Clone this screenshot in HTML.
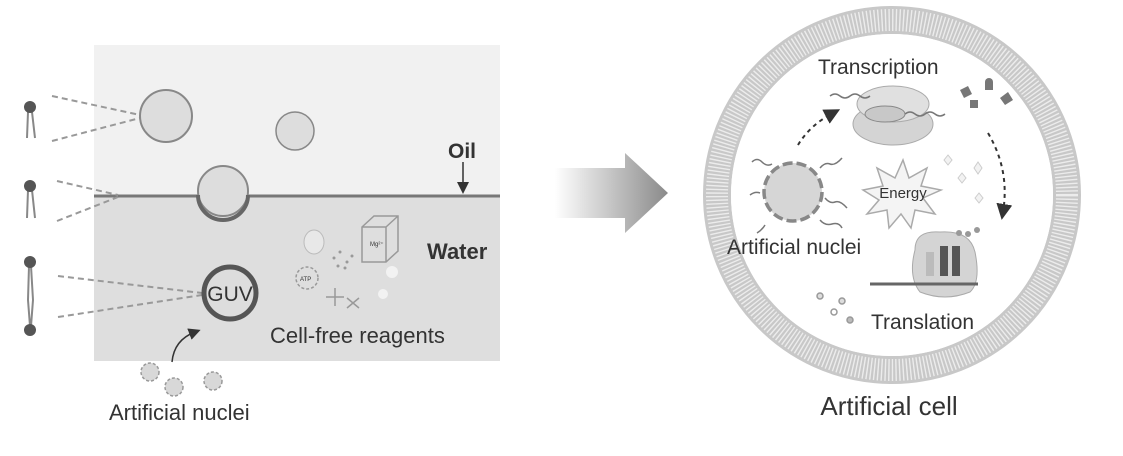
<!DOCTYPE html>
<html><head><meta charset="utf-8"><style>
html,body{margin:0;padding:0;background:#fff;width:1123px;height:456px;overflow:hidden}
svg{display:block}
text{font-family:"Liberation Sans",sans-serif;fill:#333}
</style></head><body>
<svg width="1123" height="456" viewBox="0 0 1123 456" xmlns="http://www.w3.org/2000/svg">
<defs>
<linearGradient id="ag" x1="0" x2="1" y1="0" y2="0">
<stop offset="0" stop-color="#fff"/><stop offset="1" stop-color="#8a8a8a"/></linearGradient>
<marker id="ah" markerWidth="8" markerHeight="8" refX="4" refY="4" orient="auto"><path d="M0,0 L8,4 L0,8z" fill="#333"/></marker>
</defs>
<rect x="94" y="45" width="406" height="151" fill="#f1f1f1"/>
<rect x="94" y="196" width="406" height="165" fill="#dedede"/>
<line x1="94" y1="196" x2="500" y2="196" stroke="#777" stroke-width="3"/>
<g stroke="#888" stroke-width="2" fill="none">
<path d="M28,112 L27,138 M32,112 L35,138"/>
<path d="M28,190 L27,218 M32,190 L35,218"/>
<path d="M29,266 L28,300 L30,326 M31,266 L33,300 L31,326"/>
</g>
<g fill="#555"><circle cx="30" cy="107" r="6"/><circle cx="30" cy="186" r="6"/><circle cx="30" cy="262" r="6"/><circle cx="30" cy="330" r="6"/></g>
<g stroke="#999" stroke-width="2" stroke-dasharray="6,4" fill="none">
<path d="M52,96 L140,115 M52,141 L140,118"/>
<path d="M57,181 L118,195 M57,221 L118,197"/>
<path d="M58,276 L202,293 M58,317 L202,295"/>
</g>
<circle cx="166" cy="116" r="26" fill="#ddd" stroke="#888" stroke-width="2"/>
<circle cx="295" cy="131" r="19" fill="#ddd" stroke="#888" stroke-width="1.5"/>
<circle cx="223" cy="191" r="25" fill="#ddd" stroke="#888" stroke-width="2"/>
<path d="M198,195 A25,25 0 0 0 248,195" fill="none" stroke="#666" stroke-width="4"/>
<circle cx="230" cy="293" r="26" fill="#ddd" stroke="#555" stroke-width="5"/>
<text x="230" y="301" font-size="21" text-anchor="middle" fill="#333">GUV</text>
<text x="448" y="158" font-size="21" font-weight="bold" fill="#111">Oil</text>
<line x1="463" y1="162" x2="463" y2="188" stroke="#333" stroke-width="1.5" marker-end="url(#ah)"/>
<text x="427" y="259" font-size="22" font-weight="bold" fill="#111">Water</text>
<g stroke="#999" fill="none" stroke-width="1.5">
<path d="M362,227 l12,-11 h24 v35 l-12,11 h-24z M362,227 h24 v35 M386,227 l12,-11"/>
<circle cx="307" cy="278" r="11" stroke-dasharray="3,2"/>
<path d="M335,288 v18 M326,297 h18 M347,298 l12,10 M359,298 l-12,10"/>
</g>
<ellipse cx="314" cy="242" rx="10" ry="12" fill="#e8e8e8" stroke="#bbb"/>
<text x="370" y="246" font-size="6" fill="#666">Mg²⁺</text>
<text x="300" y="281" font-size="6" fill="#666">ATP</text>
<g fill="#999"><circle cx="334" cy="258" r="1.5"/><circle cx="340" cy="252" r="1.5"/><circle cx="347" cy="262" r="1.5"/><circle cx="338" cy="266" r="1.5"/><circle cx="352" cy="256" r="1.5"/><circle cx="345" cy="268" r="1.5"/></g>
<circle cx="392" cy="272" r="6" fill="#f2f2f2"/><circle cx="383" cy="294" r="5" fill="#f2f2f2"/>
<text x="270" y="343" font-size="22">Cell-free reagents</text>
<path d="M172,362 Q174,340 195,332" fill="none" stroke="#333" stroke-width="1.5" marker-end="url(#ah)"/>
<g fill="#d8d8d8" stroke="#999" stroke-width="1.5" stroke-dasharray="3,2"><circle cx="150" cy="372" r="9"/><circle cx="174" cy="387" r="9"/><circle cx="213" cy="381" r="9"/></g>
<text x="109" y="420" font-size="22">Artificial nuclei</text>
<path d="M555,168 H625 V153 L668,193 L625,233 V218 H555z" fill="url(#ag)"/>
<circle cx="892" cy="195" r="175" fill="none" stroke="#c8c8c8" stroke-width="28"/>
<circle cx="892" cy="195" r="175" fill="none" stroke="#ececec" stroke-width="22" stroke-dasharray="1.4,2.2"/>
<circle cx="892" cy="195" r="161" fill="#fff"/>
<text x="818" y="74" font-size="21">Transcription</text>
<ellipse cx="893" cy="124" rx="40" ry="21" fill="#d4d4d4" stroke="#aaa"/>
<ellipse cx="893" cy="104" rx="36" ry="18" fill="#e0e0e0" stroke="#aaa"/>
<ellipse cx="885" cy="114" rx="20" ry="8" fill="#c8c8c8" stroke="#888"/>
<path d="M830,96 q5,-4 10,0 t10,0 t10,0 t10,0 M905,114 q5,-4 10,0 t10,0 t10,0 t10,0" fill="none" stroke="#777" stroke-width="1.5"/>
<g fill="#777"><path d="M960,90 l8,-4 l4,8 l-8,4z"/><path d="M985,90 v-8 a4,4 0 0 1 8,0 v8z"/><path d="M1000,98 l8,-6 l5,8 l-8,5z"/><path d="M970,108 h8 v-8 h-8z"/></g>
<path d="M798,145 Q810,125 833,113" fill="none" stroke="#333" stroke-width="2" stroke-dasharray="4,4" marker-end="url(#ah)"/>
<path d="M988,133 Q1010,170 1003,212" fill="none" stroke="#333" stroke-width="2" stroke-dasharray="4,4" marker-end="url(#ah)"/>
<g fill="none" stroke="#777" stroke-width="1.5">
<path d="M752,162 q5,-5 10,0 t10,2 M820,168 q5,-6 10,-4 t12,-6 M750,195 q5,-4 10,-2 M825,198 q5,6 10,4 t12,6 M765,225 q-3,5 -8,8 M820,220 q5,6 12,4 t10,4"/>
</g>
<circle cx="793" cy="192" r="29" fill="#d6d6d6" stroke="#888" stroke-width="3.5" stroke-dasharray="10,4"/>
<text x="727" y="254" font-size="21">Artificial nuclei</text>
<path d="M903,160 l6,18 l18,-10 l-6,18 l20,4 l-18,8 l12,16 l-20,-4 l-4,18 l-10,-14 l-12,14 l-2,-18 l-20,4 l12,-14 l-16,-10 l20,-4 l-6,-18 l18,10z" fill="#f4f4f4" stroke="#aaa" stroke-width="1.5"/>
<text x="903" y="198" font-size="15" text-anchor="middle">Energy</text>
<g fill="#f2f2f2" stroke="#ccc"><path d="M944,160 l4,-5 l4,5 l-4,5z"/><path d="M958,178 l4,-5 l4,5 l-4,5z"/><path d="M974,168 l4,-6 l4,6 l-4,6z"/><path d="M975,198 l4,-5 l4,5 l-4,5z"/></g>
<path d="M915,250 q0,-20 25,-18 q30,-2 35,20 q6,30 -5,40 q-25,10 -50,0 q-12,-15 -5,-42z" fill="#d4d4d4" stroke="#aaa"/>
<rect x="926" y="252" width="8" height="24" fill="#bbb"/>
<rect x="940" y="246" width="8" height="30" fill="#555"/><rect x="952" y="246" width="8" height="30" fill="#555"/>
<line x1="870" y1="284" x2="978" y2="284" stroke="#666" stroke-width="3"/>
<g fill="#999"><circle cx="959" cy="233" r="3"/><circle cx="968" cy="234" r="3"/><circle cx="977" cy="230" r="3"/></g>
<g stroke="#999" stroke-width="1.5" fill="#ddd"><circle cx="820" cy="296" r="3"/><circle cx="842" cy="301" r="3"/><circle cx="834" cy="312" r="3" fill="#fff"/><circle cx="850" cy="320" r="3" fill="#bbb"/></g>
<text x="871" y="329" font-size="21">Translation</text>
<text x="889" y="415" font-size="26" text-anchor="middle">Artificial cell</text>
</svg>
</body></html>
